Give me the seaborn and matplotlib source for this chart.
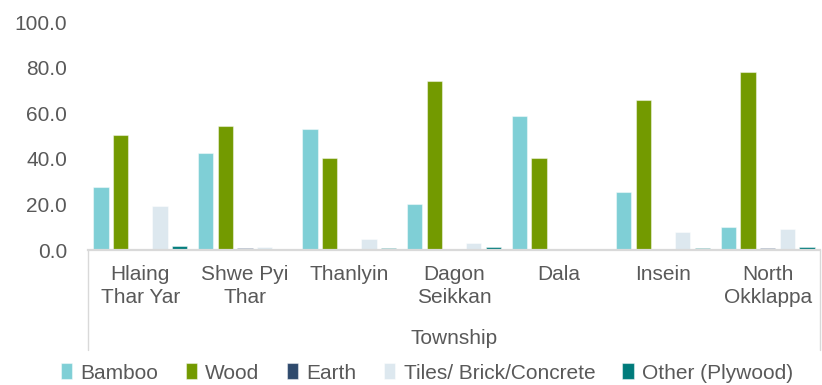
import matplotlib
matplotlib.use("Agg")
import matplotlib.pyplot as plt
import seaborn as sns
import pandas as pd
from matplotlib.ticker import FormatStrFormatter

townships = ["Hlaing\nThar Yar", "Shwe Pyi\nThar", "Thanlyin", "Dagon\nSeikkan",
             "Dala", "Insein", "North\nOkklappa"]
materials = ["Bamboo", "Wood", "Earth", "Tiles/ Brick/Concrete", "Other (Plywood)"]
bamboo = [27.8, 42.7, 52.9, 20.2, 58.8, 25.3, 9.9]
wood = [50.4, 54.5, 40.2, 74.1, 40.2, 65.8, 78.1]
earth = [0.0, 0.7, 0.0, 0.0, 0.0, 0.0, 0.9]
tiles = [19.3, 1.5, 4.8, 2.9, 0.4, 7.8, 9.1]
other = [1.8, 0.0, 0.9, 1.5, 0.0, 0.7, 1.5]
colors = ["#7fcfd6", "#739a00", "#2f4a6d", "#dde8ef", "#007b7b"]

rows = []
for mat, vals in zip(materials, [bamboo, wood, earth, tiles, other]):
    for t, v in zip(townships, vals):
        rows.append({"Township": t, "Material": mat, "Value": v})
df = pd.DataFrame(rows)

sns.set_theme(style="white")
plt.rcParams["font.family"] = ["Liberation Sans", "DejaVu Sans"]
txt = "#595959"

fig = plt.figure(figsize=(8.22, 3.85), dpi=100)
ax = fig.add_axes([88 / 822, 1 - 250 / 385, (820 - 88) / 822, (250 - 22) / 385])
sns.barplot(data=df, x="Township", y="Value", hue="Material", order=townships,
            hue_order=materials, palette=colors, saturation=1, width=0.94, gap=0.22,
            edgecolor=(1, 1, 1, 0.45), linewidth=0.8, ax=ax, legend=True)

ax.set_xlim(-0.5, len(townships) - 0.5)
ax.set_ylim(0, 100)
ax.set_yticks([0, 20, 40, 60, 80, 100])
ax.yaxis.set_major_formatter(FormatStrFormatter("%.1f"))
ax.tick_params(axis="y", length=0, pad=15, labelsize=15, labelcolor=txt)
ax.tick_params(axis="x", length=0, pad=11, labelsize=15, labelcolor=txt)
for lab in ax.get_xticklabels():
    lab.set_linespacing(1.25)
for s in ["left", "right", "top"]:
    ax.spines[s].set_visible(False)
ax.spines["bottom"].set_color("#d9d9d9")
ax.spines["bottom"].set_linewidth(1.6)
ax.set_ylabel("")
ax.set_xlabel("Township", fontsize=15, color=txt)
ax.xaxis.set_label_coords(0.5, (250 - 338) / 228)
ax.xaxis.label.set_va("center")

# category box lines
ybot = (250 - 350) / 228
for xx in [0.0, 1.0]:
    ax.plot([xx, xx], [0, ybot], transform=ax.transAxes, color="#d9d9d9",
            lw=1.0, clip_on=False)
ax.set_xlim(-0.5, len(townships) - 0.5)

h, l = ax.get_legend_handles_labels()
ax.get_legend().remove()
fig.legend(h, l, loc="center", bbox_to_anchor=(427 / 822, 1 - 373 / 385), ncol=5,
           frameon=False, fontsize=15, labelcolor=txt, handlelength=0.55,
           handleheight=0.8, handletextpad=0.4, columnspacing=1.3,
           borderaxespad=0, borderpad=0)

fig.savefig("out.png", dpi=100)
